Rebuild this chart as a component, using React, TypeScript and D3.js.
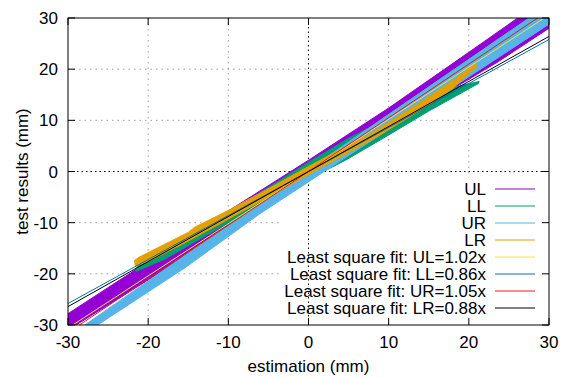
import React from "react";
import * as d3 from "d3";

const W = 568;
const H = 378;
const PL = 68, PR = 549, PT = 18, PB = 325;

const xTicks = [-30, -20, -10, 0, 10, 20, 30];
const yTicks = [-30, -20, -10, 0, 10, 20, 30];

const seriesNames = ["UL", "LL", "UR", "LR"];
const seriesColors = ["#9400d3", "#009e73", "#56b4e9", "#e69f00"];

const ulBand: [number, number][] = [
  [-31, -28.8], [-20, -17.6], [-10, -7.7], [0, 2.2], [10, 12.4], [20, 23.3], [27, 31],
  [31, 31], [31, 29.0], [30, 28.0], [23.7, 21.5], [14, 12.4], [0, -1], [-10, -11], [-20, -21.2], [-29, -30], [-31, -31],
];
const llBand: [number, number][] = [
  [-21.6, -19.0], [-21.3, -18.5], [-15, -12.8], [-10, -8], [0, 1.8], [5, 6.5], [12.5, 12.4], [15.3, 14.6], [19, 16.8], [21.3, 17.6],
  [21.2, 17.2], [15, 11.8], [9, 6.2], [4.6, 2.2], [0, -1.5], [-10, -10], [-18, -17.2], [-21.5, -19.5],
];
const urBand: [number, number][] = [
  [-28.2, -31], [-27.9, -30], [0, 0.4], [27.5, 30], [28.5, 31],
  [31, 31], [31, 29.8], [30, 28.8], [23.7, 22.3], [0.4, -1.6], [-6.2, -8.4], [-15.4, -18.8], [-26.3, -30], [-27, -31],
];
const lrBand: [number, number][] = [
  [-21.7, -17.4], [-21.2, -16.8], [-15, -11.9], [-14.2, -10.9], [-10, -7.6], [-4, -2.5], [0, 1.0], [8, 7.6], [14, 13.6], [18.5, 18.3], [20.8, 21.2],
  [21, 20.6], [18, 16.2], [14, 12.0], [8, 6.3], [0, -0.6], [-5, -5.0], [-10, -9.3], [-15, -13.6], [-20, -17.6], [-21.6, -18.4],
];
const bands = [ulBand, llBand, urBand, lrBand];

const fitSlopes = [1.02, 0.86, 1.05, 0.88];
const fitColors = ["#f0e442", "#0072b2", "#e51e10", "#000000"];
const fitLabels = [
  "Least square fit: UL=1.02x",
  "Least square fit: LL=0.86x",
  "Least square fit: UR=1.05x",
  "Least square fit: LR=0.88x",
];
const fitRange = [-30, 30];

export default function App() {
  const x = d3.scaleLinear().domain([-30, 30]).range([PL, PR]);
  const y = d3.scaleLinear().domain([-30, 30]).range([PB, PT]);
  const poly = d3
    .line<[number, number]>()
    .x((d) => x(d[0]))
    .y((d) => y(d[1]))
    .curve(d3.curveLinearClosed);
  const line = d3
    .line<[number, number]>()
    .x((d) => x(d[0]))
    .y((d) => y(d[1]));

  const font = "'Liberation Sans', Arial, sans-serif";
  const keyRows = [...seriesNames, ...fitLabels];
  const keyColors = [...seriesColors, ...fitColors];
  const tick = 7;

  return (
    <svg
      width={W}
      height={H}
      style={{ position: "absolute", left: 0, top: 0, background: "#fff" }}
      fontFamily={font}
      fontSize={17}
    >
      <defs>
        <clipPath id="plotclip">
          <rect x={PL} y={PT} width={PR - PL} height={PB - PT} />
        </clipPath>
      </defs>
      <rect x={0} y={0} width={W} height={H} fill="#fff" />
      {/* grid */}
      <g stroke="#a0a0a0" strokeWidth={1} strokeDasharray="1.5,4">
        {xTicks
          .filter((t) => t !== 0 && t !== -30 && t !== 30)
          .map((t) => (
            <line key={"gx" + t} x1={x(t)} x2={x(t)} y1={PT} y2={PB} />
          ))}
        {yTicks
          .filter((t) => t !== 0 && t !== -30 && t !== 30)
          .map((t) => (
            <line key={"gy" + t} x1={PL} x2={PR} y1={y(t)} y2={y(t)} />
          ))}
      </g>
      {/* key box (opaque) */}
      <rect x={280} y={178} width={PR - 280} height={PB - 178} fill="#fff" />
      {/* zero axes */}
      <g stroke="#000" strokeWidth={1} strokeDasharray="1.5,3">
        <line x1={x(0)} x2={x(0)} y1={PT} y2={PB} />
        <line x1={PL} x2={PR} y1={y(0)} y2={y(0)} />
      </g>
      <g clipPath="url(#plotclip)">
        {bands.map((b, i) => (
          <path
            key={"b" + i}
            d={poly(b) || ""}
            fill={seriesColors[i]}
            stroke={seriesColors[i]}
            strokeWidth={1}
            strokeLinejoin="round"
          />
        ))}
        {fitSlopes.map((s, i) => (
          <path
            key={"f" + i}
            d={line(fitRange.map((v) => [v, s * v] as [number, number])) || ""}
            fill="none"
            stroke={fitColors[i]}
            strokeWidth={1}
          />
        ))}
      </g>
      {/* key */}
      {keyRows.map((lab, i) => {
        const cy = 189 + i * 17;
        return (
          <g key={"k" + i}>
            <text x={486} y={cy + 6} textAnchor="end" fill="#000">
              {lab}
            </text>
            <line x1={495} x2={535} y1={cy} y2={cy} stroke={keyColors[i]} strokeWidth={1} />
          </g>
        );
      })}
      {/* border */}
      <rect x={PL} y={PT} width={PR - PL} height={PB - PT} fill="none" stroke="#000" strokeWidth={1} />
      {/* ticks */}
      <g stroke="#000" strokeWidth={1}>
        {xTicks.map((t) => (
          <g key={"tx" + t}>
            <line x1={x(t)} x2={x(t)} y1={PB} y2={PB - tick} />
            <line x1={x(t)} x2={x(t)} y1={PT} y2={PT + tick} />
          </g>
        ))}
        {yTicks.map((t) => (
          <g key={"ty" + t}>
            <line x1={PL} x2={PL + tick} y1={y(t)} y2={y(t)} />
            <line x1={PR} x2={PR - tick} y1={y(t)} y2={y(t)} />
          </g>
        ))}
      </g>
      {/* tick labels */}
      {xTicks.map((t) => (
        <text key={"lx" + t} x={x(t)} y={348} textAnchor="middle" fill="#000">
          {t}
        </text>
      ))}
      {yTicks.map((t) => (
        <text key={"ly" + t} x={58} y={y(t) + 6} textAnchor="end" fill="#000">
          {t}
        </text>
      ))}
      <text x={x(0)} y={372} textAnchor="middle" fill="#000">
        estimation (mm)
      </text>
      <text
        transform={`translate(28, ${y(0)}) rotate(-90)`}
        textAnchor="middle"
        fill="#000"
      >
        test results (mm)
      </text>
    </svg>
  );
}
